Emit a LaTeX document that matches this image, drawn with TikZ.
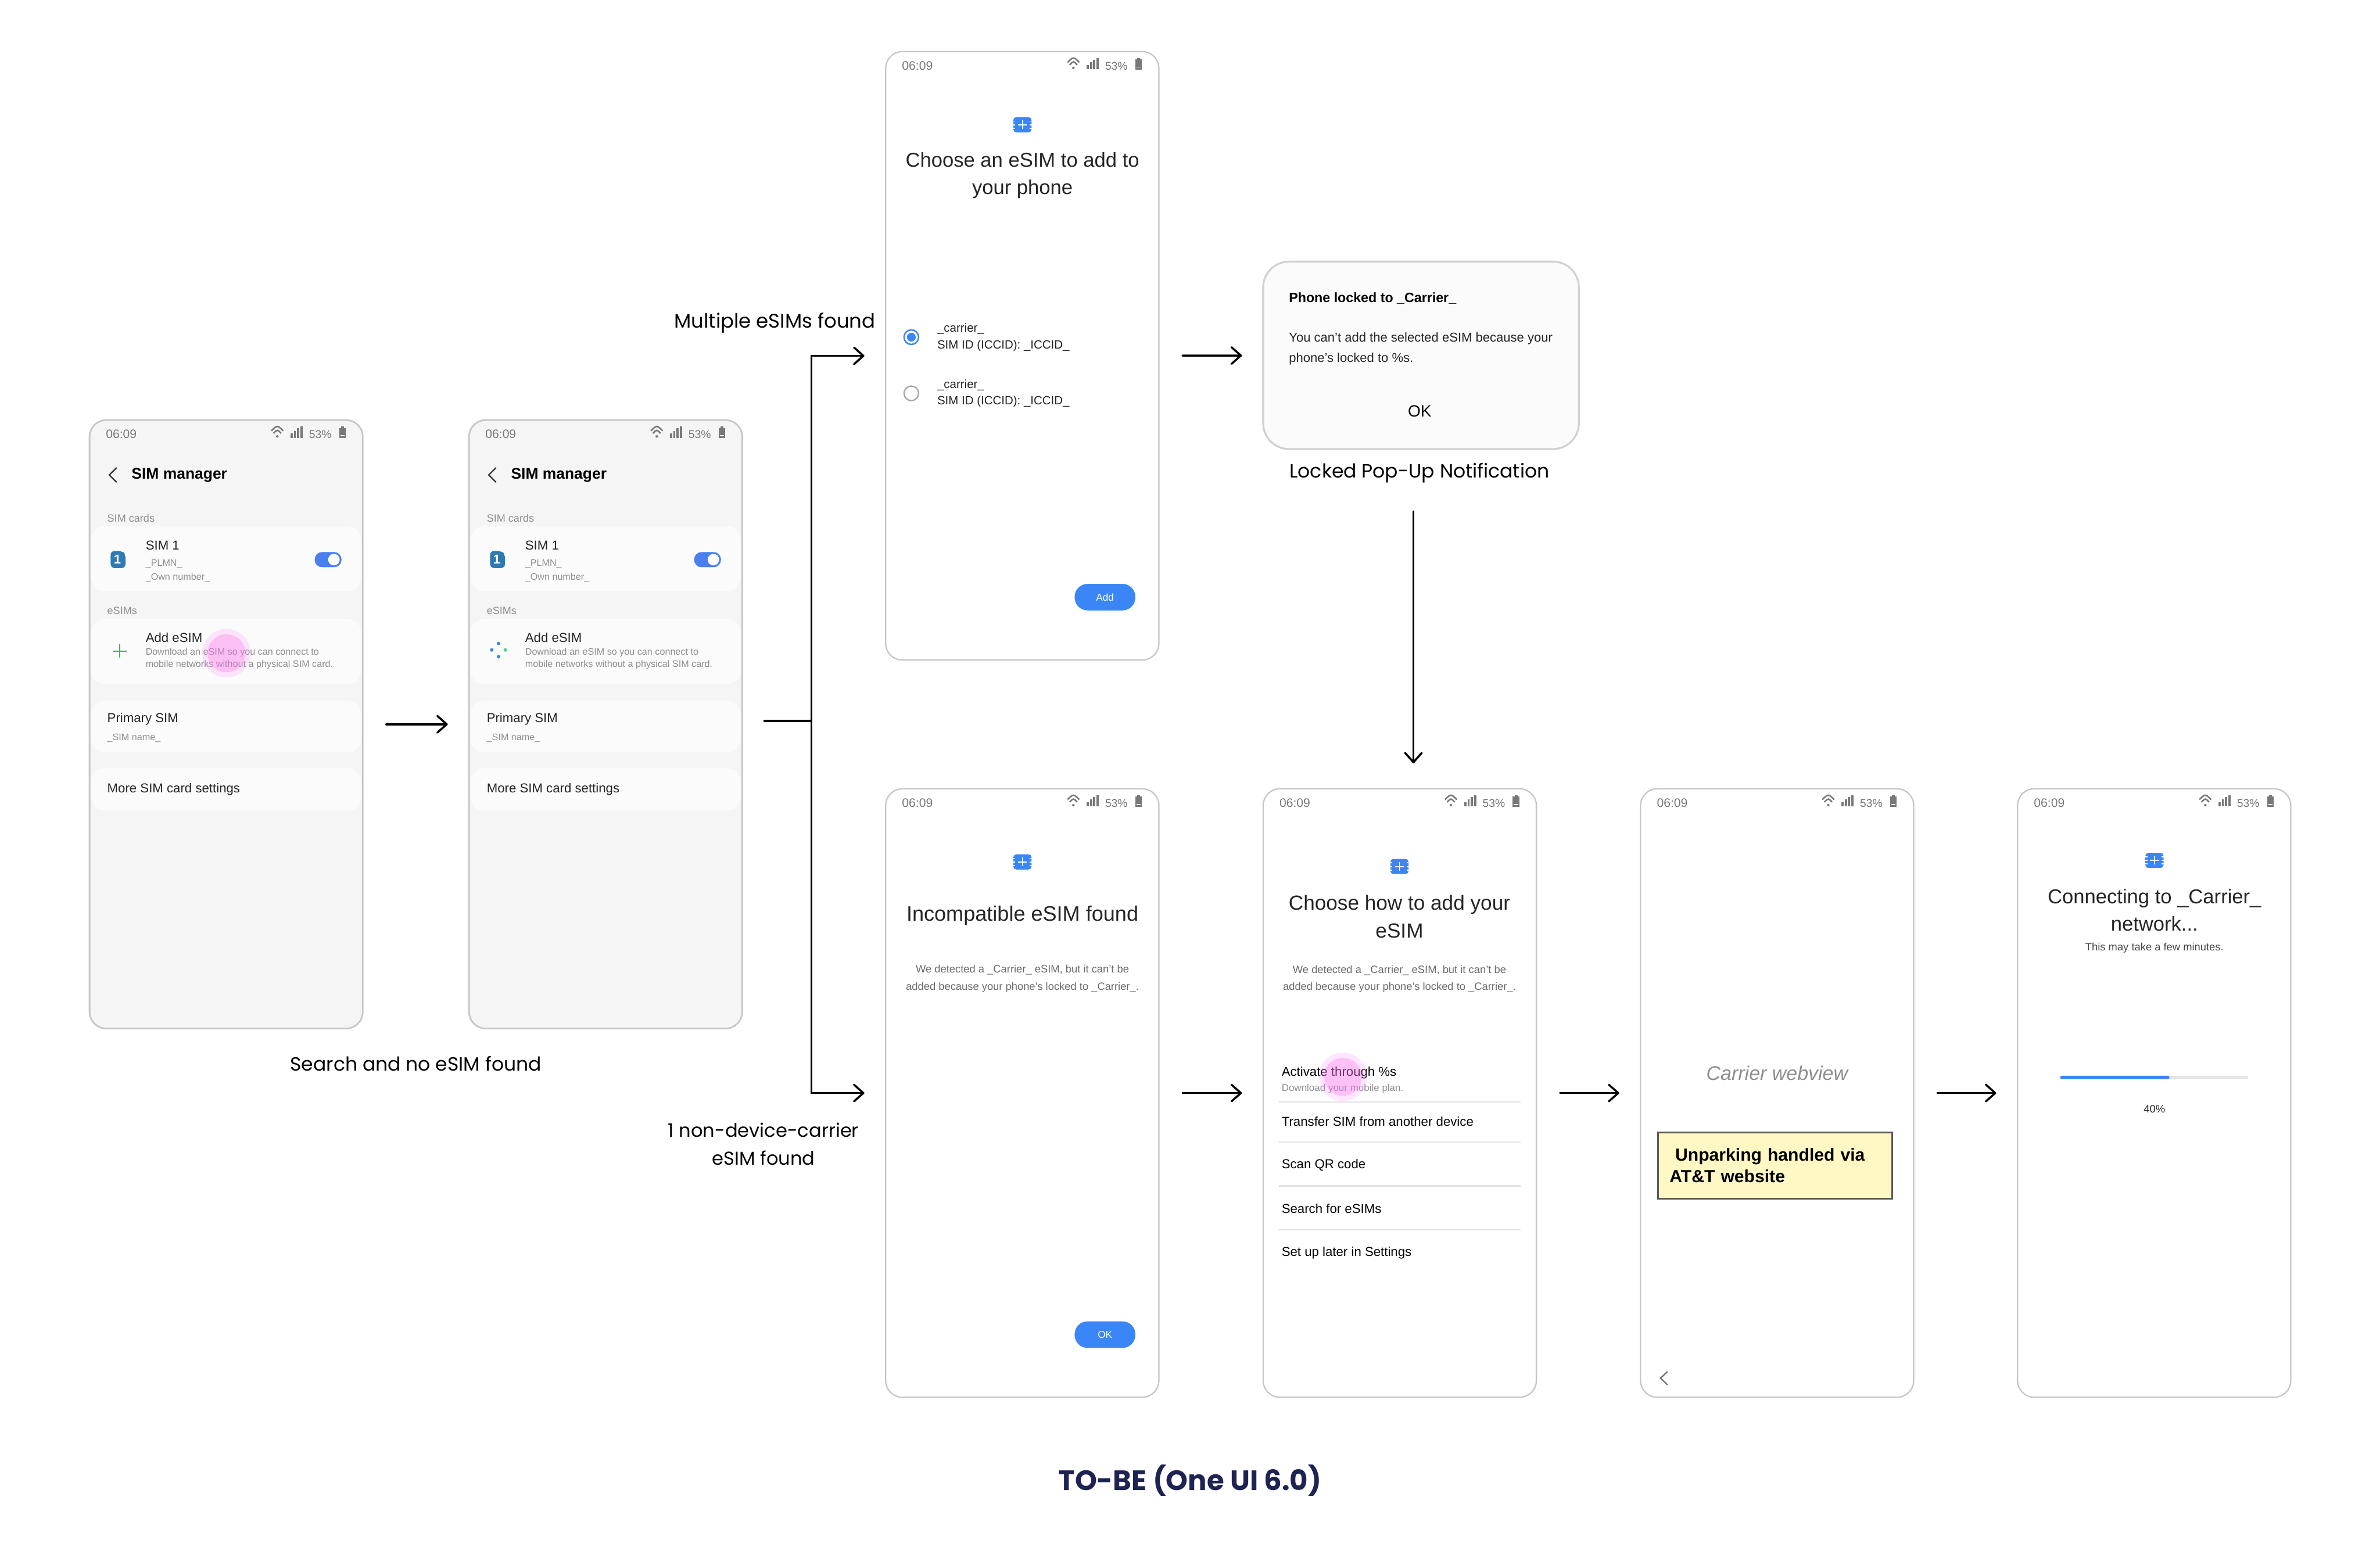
\documentclass[tikz,border=0pt]{standalone}
\usepackage{fontspec}
\setmainfont{Liberation Sans}
\newfontfamily\labelfont{Poppins}
\usepackage{xcolor}
\usetikzlibrary{calc,positioning,arrows.meta}

\definecolor{phoneedge}{HTML}{C6C6C6}
\definecolor{phonefill}{HTML}{F5F5F5}
\definecolor{cardfill}{HTML}{FBFBFB}
\definecolor{simblue}{HTML}{3B86F7}
\definecolor{togglefill}{HTML}{4A7FF0}
\definecolor{simcard}{HTML}{2F7AB5}
\definecolor{plusgreen}{HTML}{4CAF50}
\definecolor{dotgreen}{HTML}{50D090}
\definecolor{graytext}{HTML}{8E8E8E}
\definecolor{statusgray}{HTML}{787878}
\definecolor{darktext}{HTML}{252525}
\definecolor{rulegray}{HTML}{E2E2E2}
\definecolor{notefill}{HTML}{FFF8C4}
\definecolor{navy}{HTML}{1E2352}
\definecolor{touchcola}{HTML}{FB83FB}
\definecolor{touchcolb}{HTML}{FB6EE7}

\newcommand{\sz}[2]{\fontsize{#1}{#2}\selectfont}

\tikzset{
	phone/.style={draw=phoneedge,line width=.25pt,rounded corners=1.1mm,fill=white,anchor=north west,
		minimum width=18mm,minimum height=40.1mm,inner sep=0,outer sep=0},
	card/.style={fill=cardfill,rounded corners=.9mm,anchor=north west,minimum width=17.8mm,inner sep=0,outer sep=0},
	txt/.style={anchor=west,inner sep=0,outer sep=0,text=black,yshift=-.06pt},
	cen/.style={inner sep=0,outer sep=0,align=center},
	head/.style={cen,text=darktext,yshift=-.25pt,font=\sz{3.77}{5.15}},
	sub/.style={cen,text=graytext!75!black,yshift=-.15pt,font=\sz{2}{3.25}},
	row/.style={txt,font=\sz{2.42}{3}},
	hint/.style={txt,text=graytext,font=\sz{1.76}{2.3}},
	section/.style={txt,text=graytext,font=\sz{1.97}{2.4}},
	pill/.style={fill=simblue,rounded corners=.85mm,minimum width=4mm,minimum height=1.75mm,inner sep=0,
		text=white,font=\sz{1.87}{2}},
	caption/.style={cen,font=\labelfont\sz{3.6}{5.2}},
	flow/.style={line width=.38pt,line cap=round,-{Straight Barb[length=.62mm,width=1.1mm,round]},
		shorten <=1.55mm,shorten >=1.4mm},
	touchout/.style={circle,fill=touchcola,fill opacity=.2,minimum size=3.2mm,inner sep=0},
	touchin/.style={circle,fill=touchcolb,fill opacity=.3,minimum size=2.5mm,inner sep=0},
}

\newcommand{\statusbar}[2]{%
	\begin{scope}[shift={#2},name prefix=#1-]
		\node[txt,text=statusgray,font=\sz{2.3}{3}] (clock) at (10.8,9) {06:09};
		\draw[statusgray,line width=.28pt] (119.8,7.1) .. controls (123.7,3.3) .. (127.6,7.1);
		\draw[statusgray,line width=.28pt] (121.2,8.8) .. controls (123.7,6.1) .. (126.2,8.8);
		\fill[statusgray] (123.7,10.8) circle (.85);
		\fill[statusgray] (132.5,8.7) rectangle (133.9,11.7);
		\fill[statusgray] (134.6,7.1) rectangle (136,11.7);
		\fill[statusgray] (136.7,5.5) rectangle (138.1,11.7);
		\fill[statusgray] (138.9,4.3) rectangle (140.4,11.7);
		\node[cen,text=statusgray,yshift=-.15pt,font=\sz{2.1}{3}] (battery) at (152,9) {53\%};
		\fill[statusgray] (164.4,5.2) rectangle (168.8,12);
		\fill[statusgray] (165.6,4.3) rectangle (167.6,5.2);
		\fill[white] (165.2,10) rectangle (168,10.6);
	\end{scope}}

\newcommand{\esimicon}[2]{%
	\begin{scope}[shift={#2},name prefix=#1-]
		\fill[simblue,rounded corners=.2mm] (-6,-5) rectangle (6,5);
		\draw[white,line width=.2pt] (-3,0) -- (3,0) (0,-2.8) -- (0,2.8);
		\draw[white,line width=.2pt] (-6.1,-2.4) -- (-4.7,-2.4) (-6.1,0) -- (-4.7,0) (-6.1,2.4) -- (-4.7,2.4);
		\draw[white,line width=.2pt] (6.1,-2.4) -- (4.7,-2.4) (6.1,0) -- (4.7,0) (6.1,2.4) -- (4.7,2.4);
	\end{scope}}

\newcommand{\simmanager}[2]{%
	\statusbar{#1}{#2}
	\begin{scope}[shift={#2},name prefix=#1-]
		\draw[black!80,line width=.25pt,line cap=round] (17.7,31.5) -- (13,36.2) -- (17.7,40.9);
		\node[txt,font=\bfseries\sz{2.88}{3.5}] (title) at (27.7,36.2) {SIM manager};
		\node[section] (simcards) at (11.7,64.5) {SIM cards};

		\node[card,minimum height=4.29mm] (simrow) at (1,70) {};
		\fill[simcard,rounded corners=.25mm] (13.9,86.3) -- (21.5,86.3) -- (23.7,88.5) -- (23.7,97.5) -- (13.9,97.5) -- cycle;
		\node[cen,text=white,font=\bfseries\sz{2.4}{3}] (simno) at (18.3,92) {1};
		\node[row,text=darktext] (simone) at (37,82.5) {SIM 1};
		\node[hint] (plmn) at (37,94.5) {\_PLMN\_};
		\node[hint] (ownno) at (37,103.5) {\_Own number\_};
		\fill[togglefill,rounded corners=.49mm] (148.3,87) rectangle (166,97);
		\fill[white] (161,92) circle (3.8);

		\node[section] (esims) at (11.7,125.5) {eSIMs};
		\node[card,minimum height=4.3mm] (addrow) at (1,131.2) {};
		\node[row,text=darktext] (addesim) at (37,143.3) {Add eSIM};
		\node[hint] (addone) at (37,153.1) {Download an eSIM so you can connect to};
		\node[hint] (addtwo) at (37,161.1) {mobile networks without a physical SIM card.};

		\node[card,minimum height=3.42mm] (primrow) at (1,184.8) {};
		\node[row,text=darktext] (primary) at (11.7,196.8) {Primary SIM};
		\node[hint] (simname) at (11.7,209.3) {\_SIM name\_};

		\node[card,minimum height=2.82mm] (morerow) at (1,229.3) {};
		\node[row,text=darktext] (more) at (11.7,243) {More SIM card settings};
	\end{scope}}

\begin{document}
\begin{tikzpicture}[x=.1mm,y=-.1mm]
	\useasboundingbox (0,0) rectangle (1568,1026.4);

	\node[phone,fill=phonefill,line width=.3pt] (scrsearch) at (59,276.8) {};
	\simmanager{search}{(59,276.8)}
	\draw[plusgreen,line width=.25pt] (74.3,429) -- (83.3,429) (78.8,424.6) -- (78.8,433.4);
	\node[touchout] (searchtouchout) at (149.2,430.5) {};
	\node[touchin] (searchtouchin) at (149.2,430.5) {};

	\node[phone,fill=phonefill,line width=.3pt] (scrbase) at (309,276.8) {};
	\simmanager{base}{(309,276.8)}
	\fill[simblue] (328.5,424) circle (1.15) (324,428.3) circle (1.15) (328.5,432.8) circle (1.15);
	\fill[dotgreen] (332.9,428.3) circle (1.15);

	\node[caption] (searchcap) at (274,701) {Search and no eSIM found};
	\draw[flow] (scrsearch) -- (scrbase);

	\node[phone] (scrmulti) at (583.5,34) {};
	\statusbar{multi}{(583.5,34)}
	\esimicon{multiicon}{(673.6,82.2)}
	\node[head] (multititle) at (673.6,114.8) {Choose an eSIM to add to\\your phone};
	\draw[simblue,line width=.28pt] (600.4,222.2) circle (4.8);
	\fill[simblue] (600.4,222.2) circle (2.9);
	\node[txt,font=\sz{2.23}{3},text=darktext] (carrierone) at (617.5,216.6) {\_carrier\_};
	\node[txt,font=\sz{2.23}{3},text=darktext] (iccidone) at (617.5,227.5) {SIM ID (ICCID): \_ICCID\_};
	\draw[black!35,line width=.25pt] (600.4,259.2) circle (4.8);
	\node[txt,font=\sz{2.23}{3},text=darktext] (carriertwo) at (617.5,253.6) {\_carrier\_};
	\node[txt,font=\sz{2.23}{3},text=darktext] (iccidtwo) at (617.5,264.4) {SIM ID (ICCID): \_ICCID\_};
	\node[pill] (addbtn) at (728,393.5) {Add};

	\node[phone] (scrincomp) at (583.5,519.8) {};
	\statusbar{incomp}{(583.5,519.8)}
	\esimicon{incompicon}{(673.6,568)}
	\node[head,font=\sz{3.93}{5.15}] (incomptitle) at (673.6,602.5) {Incompatible eSIM found};
	\node[sub] (incompsub) at (673.6,644.4) {We detected a \_Carrier\_ eSIM, but it can't be\\added because your phone's locked to \_Carrier\_.};
	\node[pill] (okbtn) at (728,879.5) {OK};

	\node[phone,line width=.35pt,draw=black!18,fill=cardfill,minimum width=20.8mm,minimum height=12.35mm,rounded corners=1.7mm] (popup) at (832.2,172.4) {};
	\node[txt,font=\bfseries\sz{2.53}{3}] (poptitle) at (849.2,196.2) {Phone locked to \_Carrier\_};
	\node[txt,text=darktext,font=\sz{2.4}{3}] (popone) at (849.2,222.8) {You can't add the selected eSIM because your};
	\node[txt,text=darktext,font=\sz{2.4}{3}] (poptwo) at (849.2,236.4) {phone's locked to \%s.};
	\node[cen,font=\sz{3.05}{4}] (popok) at (935.3,270.8) {OK};
	\node[caption] (popcap) at (935.2,311.5) {Locked Pop-Up Notification};

	\node[phone] (scrhow) at (832.2,519.8) {};
	\statusbar{how}{(832.2,519.8)}
	\esimicon{howicon}{(922,571)}
	\node[head,font=\sz{3.83}{5.15}] (howtitle) at (922,603.2) {Choose how to add your\\eSIM};
	\node[sub] (howsub) at (922,644.6) {We detected a \_Carrier\_ eSIM, but it can't be\\added because your phone's locked to \_Carrier\_.};
	\node[row] (activate) at (844.4,706.6) {Activate through \%s};
	\node[hint,font=\sz{1.85}{2.4}] (download) at (844.4,717.4) {Download your mobile plan.};
	\draw[rulegray,line width=.25pt] (842.5,726.3) -- (1001.8,726.3) (842.5,752.7) -- (1001.8,752.7) (842.5,781.5) -- (1001.8,781.5) (842.5,810.5) -- (1001.8,810.5);
	\node[row] (transfer) at (844.4,739) {Transfer SIM from another device};
	\node[row] (scanqr) at (844.4,767.6) {Scan QR code};
	\node[row] (searchesim) at (844.4,796.2) {Search for eSIMs};
	\node[row] (setup) at (844.4,825.4) {Set up later in Settings};
	\node[touchout] (howtouchout) at (884.7,709.6) {};
	\node[touchin] (howtouchin) at (884.7,709.6) {};

	\node[phone] (scrweb) at (1080.8,519.8) {};
	\statusbar{web}{(1080.8,519.8)}
	\node[cen,text=graytext,font=\itshape\sz{3.7}{5}] (webview) at (1170.8,707) {Carrier webview};
	\node[draw=black!65,line width=.3pt,fill=notefill,anchor=north west,minimum width=15.42mm,minimum height=4.36mm,
		text width=13.9mm,inner xsep=.76mm,inner ysep=0,outer sep=0,align=left,font=\bfseries\sz{3.28}{4}] (unpark) at (1092.4,746.2)
		{\hspace*{.37mm}Unparking handled via\\AT\&T website};
	\draw[black!55,line width=.25pt] (1098.6,903.8) -- (1094,908.2) -- (1098.6,912.6);

	\node[phone] (scrconnect) at (1329.2,519.8) {};
	\statusbar{connect}{(1329.2,519.8)}
	\esimicon{connecticon}{(1419.4,567)}
	\node[head] (connecttitle) at (1419.4,598.8) {Connecting to \_Carrier\_\\network...};
	\node[cen,text=darktext!85,font=\sz{2}{3}] (connectsub) at (1419.4,624.7) {This may take a few minutes.};
	\fill[black!10,rounded corners=.1mm] (1357.3,708.9) rectangle (1481.2,711.1);
	\fill[simblue,rounded corners=.1mm] (1357.3,708.9) rectangle (1429.3,711.1);
	\node[cen,text=darktext,font=\sz{2}{3}] (percent) at (1419.4,731) {40\%};

	\coordinate (branch) at (534.5,475);
	\coordinate (lockstart) at (931.2,337);
	\coordinate (lockend) at (931.2,503);
	\node[caption,font=\labelfont\sz{3.7}{5.2}] (multicap) at (510.5,213) {Multiple eSIMs found};
	\node[caption,font=\labelfont\sz{3.5}{5.2}] (singlecap) at (503,754) {1 non-device-carrier\\eSIM found};

	\draw[line width=.38pt,shorten <=1.4mm] (scrbase.east |- branch) -- (branch);
	\draw[flow,shorten <=0pt] (branch) |- (scrmulti);
	\draw[flow,shorten <=0pt] (branch) |- (scrincomp);
	\draw[flow] (scrmulti) -- (popup);
	\draw[flow,shorten <=0pt,shorten >=0pt] (lockstart) -- (lockend);
	\draw[flow] (scrincomp) -- (scrhow);
	\draw[flow] (scrhow) -- (scrweb);
	\draw[flow] (scrweb) -- (scrconnect);

	\node[cen,text=navy,font=\labelfont\bfseries\sz{5.25}{6}] (pagetitle) at (784,975.5) {TO-BE (One UI 6.0)};
\end{tikzpicture}
\end{document}
